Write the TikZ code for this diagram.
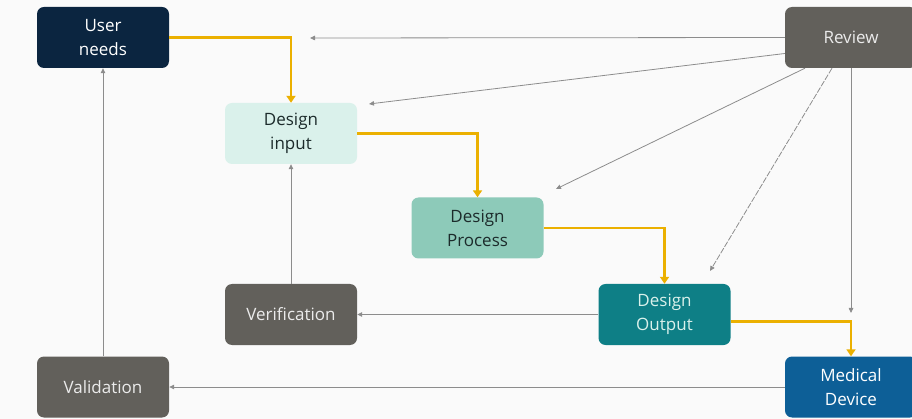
\documentclass[tikz,border=0pt]{standalone}
\usepackage{fontspec}
\setmainfont{Open Sans}
\usetikzlibrary{arrows.meta}
\definecolor{bg}{HTML}{FAFAFA}
\definecolor{navy}{HTML}{0B2540}
\definecolor{mint}{HTML}{DAF1EB}
\definecolor{sea}{HTML}{8DCAB9}
\definecolor{teal}{HTML}{0E7F86}
\definecolor{ocean}{HTML}{0D5F97}
\definecolor{stone}{HTML}{62605B}
\definecolor{gold}{HTML}{EBB000}
\definecolor{wire}{HTML}{8C8C8C}
\definecolor{darktext}{HTML}{1C2B2B}
\begin{document}
\begin{tikzpicture}[x=1pt,y=-1pt,
  box/.style={rectangle,rounded corners=7pt,minimum width=132pt,minimum height=61pt,inner sep=0pt,align=center,font=\fontsize{17}{24}\selectfont},
  flow/.style={draw=gold,line width=2.6pt,-{Triangle[length=7pt,width=9pt]}},
  link/.style={draw=wire,line width=0.8pt,-{Triangle[length=5pt,width=4.5pt]}}]
\fill[bg] (0,0) rectangle (912,419);
\useasboundingbox (0,0) rectangle (912,419);
\node[box,fill=navy,text=white] (user) at (103,37.5) {User\\needs};
\node[box,fill=mint,text=darktext] (input) at (291,133.5) {Design\\input};
\node[box,fill=sea,text=darktext] (process) at (477.5,228) {Design\\Process};
\node[box,fill=teal,text=mint] (output) at (664.5,314.5) {Design\\Output};
\node[box,fill=ocean,text=white] (device) at (851,387) {Medical\\Device};
\node[box,fill=stone,text=white!92!black] (review) at (851,37.5) {Review};
\node[box,fill=stone,text=white!92!black] (verif) at (291,314.5) {Verification};
\node[box,fill=stone,text=white!92!black] (valid) at (103,387) {Validation};
% yellow flow
\draw[flow] (user.east) -| (input.north);
\draw[flow] (input.east) -| (process.north);
\draw[flow] (process.east) -| (output.north);
\draw[flow] ([yshift=-7pt]output.east) -| (device.north);
% review links
\coordinate (r1) at (310,38);
\coordinate (r2) at (369,104);
\coordinate (r3) at (556,189);
\coordinate (r4) at (710,271);
\coordinate (r5) at (851,313);
\draw[link] (review.west) -- (r1);
\draw[link] ([yshift=-16pt]review.west) -- (r2);
\draw[link] ([xshift=-46pt]review.south) -- (r3);
\draw[link,dash pattern=on 6pt off 1.5pt] ([xshift=-19pt]review.south) -- (r4);
\draw[link] (review.south) -- (r5);
% feedback
\draw[link] (verif.north) -- (input.south);
\draw[link] (output.west) -- (verif.east);
\draw[link] (device.west) -- (valid.east);
\draw[link] (valid.north) -- (user.south);
\end{tikzpicture}
\end{document}
